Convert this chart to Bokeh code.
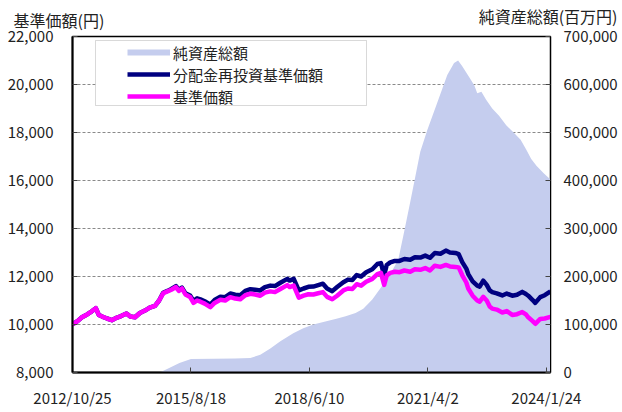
import pandas as pd
from bokeh.plotting import figure
from bokeh.core.properties import value
from bokeh.models import (Range1d, LinearAxis, FixedTicker, NumeralTickFormatter,
                          CustomJSTickFormatter, Legend, LegendItem, Title,
                          BoxAnnotation, ColumnDataSource)
from bokeh.embed import file_html
from bokeh.resources import INLINE

# ---------------- data ----------------
nav_dates = [
    "2012-10-25", "2012-12-10", "2013-01-15", "2013-03-01", "2013-04-10", "2013-05-15",
    "2013-06-10", "2013-07-10", "2013-08-20", "2013-10-01", "2013-11-10", "2013-12-20",
    "2014-02-05", "2014-03-10", "2014-04-20", "2014-06-01", "2014-07-15", "2014-08-25",
    "2014-10-10", "2014-11-15", "2014-12-20", "2015-01-26", "2015-03-01", "2015-04-10",
    "2015-05-05", "2015-06-01", "2015-07-01", "2015-08-10", "2015-09-09", "2015-10-10",
    "2015-11-08", "2015-12-15", "2016-02-02", "2016-03-10", "2016-04-29", "2016-06-10",
    "2016-07-24", "2016-09-05", "2016-10-19", "2016-12-01", "2017-01-14", "2017-02-25",
    "2017-04-10", "2017-05-20", "2017-07-06", "2017-08-15", "2017-10-01", "2017-11-30",
    "2017-12-20", "2018-01-25", "2018-03-10", "2018-04-20", "2018-06-01", "2018-07-14",
    "2018-08-25", "2018-10-05", "2018-11-10", "2018-12-25", "2019-02-05", "2019-03-31",
    "2019-05-10", "2019-06-17", "2019-07-25", "2019-09-01", "2019-10-15", "2019-12-07",
    "2020-01-20", "2020-02-20", "2020-03-19", "2020-04-10", "2020-05-11", "2020-06-20",
    "2020-07-30", "2020-09-10", "2020-10-31", "2020-12-10", "2021-01-26", "2021-03-10",
    "2021-04-20", "2021-06-01", "2021-07-20", "2021-09-05", "2021-10-10", "2021-11-26",
    "2021-12-25", "2022-01-25", "2022-03-01", "2022-03-18", "2022-04-25", "2022-06-04",
    "2022-06-25", "2022-07-26", "2022-08-25", "2022-09-20", "2022-10-12", "2022-11-20",
    "2023-01-07", "2023-02-15", "2023-04-03", "2023-05-15", "2023-06-29", "2023-07-31",
    "2023-08-20", "2023-09-25", "2023-10-20", "2023-12-02", "2024-01-10", "2024-02-29",
]
nav_base = [
    10000, 10150, 10300, 10420, 10550, 10680,
    10400, 10330, 10250, 10180, 10280, 10350,
    10460, 10330, 10300, 10480, 10580, 10700,
    10780, 11000, 11300, 11380, 11450, 11560,
    11400, 11500, 11250, 11150, 10900, 11000,
    10950, 10870, 10720, 10900, 11030, 11000,
    11140, 11080, 11050, 11220, 11280, 11250,
    11200, 11330, 11380, 11350, 11480, 11640,
    11560, 11620, 11120, 11200, 11260, 11250,
    11300, 11350, 11150, 11050, 11200, 11420,
    11500, 11480, 11680, 11620, 11780, 11900,
    12100, 12150, 11650, 12050, 12150, 12200,
    12180, 12250, 12200, 12300, 12280, 12350,
    12250, 12450, 12400, 12480, 12420, 12400,
    12380, 12050, 11750, 11500, 11200, 11000,
    10950, 11150, 11000, 10750, 10660, 10620,
    10500, 10560, 10400, 10430, 10520, 10420,
    10300, 10150, 10030, 10230, 10250, 10320,
]
nav_reinvest = [
    10000, 10150, 10300, 10420, 10550, 10680,
    10400, 10330, 10250, 10180, 10280, 10350,
    10460, 10330, 10300, 10480, 10580, 10700,
    10780, 11000, 11320, 11400, 11480, 11600,
    11440, 11540, 11300, 11210, 10980, 11090,
    11050, 10970, 10830, 11020, 11160, 11140,
    11290, 11240, 11220, 11400, 11470, 11450,
    11420, 11560, 11620, 11600, 11740, 11900,
    11830, 11900, 11420, 11500, 11570, 11580,
    11640, 11700, 11500, 11390, 11560, 11760,
    11870, 11850, 12060, 12000, 12180, 12300,
    12520, 12560, 12050, 12480, 12590, 12650,
    12650, 12730, 12700, 12800, 12790, 12870,
    12780, 12980, 12950, 13080, 13000, 12980,
    12930, 12600, 12330, 12100, 11800, 11620,
    11580, 11830, 11650, 11420, 11350, 11300,
    11210, 11290, 11200, 11240, 11360, 11270,
    11200, 11030, 10900, 11140, 11220, 11380,
]
asset_dates = [
    "2012-10-25", "2014-11-20", "2015-02-15", "2015-05-10", "2015-08-18", "2016-03-01",
    "2016-09-01", "2017-01-14", "2017-04-10", "2017-07-06", "2017-10-01", "2018-01-21",
    "2018-04-18", "2018-07-14", "2018-10-26", "2019-01-30", "2019-04-20", "2019-07-15",
    "2019-09-20", "2019-12-07", "2020-02-14", "2020-05-11", "2020-07-19", "2020-09-01",
    "2020-10-31", "2021-01-26", "2021-03-28", "2021-06-22", "2021-09-17", "2021-11-15",
    "2021-12-20", "2022-01-25", "2022-04-04", "2022-05-10", "2022-06-04", "2022-07-10",
    "2022-08-20", "2022-10-12", "2022-12-10", "2023-02-10", "2023-04-15", "2023-06-15",
    "2023-08-01", "2023-09-15", "2023-11-01", "2024-01-01", "2024-02-29",
]
net_assets = [
    0, 0, 10000, 20000, 28000, 28500,
    29000, 30000, 37000, 50000, 65000, 82000,
    92000, 100000, 106000, 112000, 117000, 124000,
    133000, 152000, 175000, 205000, 235000, 285000,
    355000, 460000, 505000, 562000, 620000, 645000,
    650000, 638000, 612000, 598000, 582000, 585000,
    568000, 550000, 535000, 515000, 500000, 485000,
    465000, 445000, 430000, 415000, 402000,
]
x_tick_dates = ["2012-10-25", "2015-08-18", "2018-06-10", "2021-04-02", "2024-01-24"]
left_ticks = [8000, 10000, 12000, 14000, 16000, 18000, 20000, 22000]
right_ticks = [0, 100000, 200000, 300000, 400000, 500000, 600000, 700000]

label_left = "基準価額(円)"
label_right = "純資産総額(百万円)"
legend_labels = ["純資産総額", "分配金再投資基準価額", "基準価額"]

# ---------------- styling ----------------
AREA_COLOR = "#C5CDEE"
REINV_COLOR = "#000080"
BASE_COLOR = "#FF00FF"
TEXT_COLOR = "#222222"
FONT = "Noto Sans CJK JP"
W, H = 622, 412
BORDER_L, BORDER_R, BORDER_T, BORDER_B = 72, 72, 36, 40

nav_src = ColumnDataSource(dict(
    date=pd.to_datetime(nav_dates), base=nav_base, reinv=nav_reinvest))
asset_src = ColumnDataSource(dict(
    date=pd.to_datetime(asset_dates), assets=net_assets,
    zero=[0] * len(net_assets)))

x_start = pd.Timestamp(nav_dates[0])
x_end = pd.Timestamp(nav_dates[-1])

p = figure(width=W, height=H, x_axis_type="datetime",
           output_backend="svg", toolbar_location=None,
           x_range=Range1d(x_start, x_end),
           y_range=Range1d(left_ticks[0], left_ticks[-1]),
           min_border_left=BORDER_L, min_border_right=BORDER_R,
           min_border_top=BORDER_T, min_border_bottom=BORDER_B,
           background_fill_color="white", border_fill_color="white")
p.extra_y_ranges = {"assets": Range1d(right_ticks[0], right_ticks[-1]),
                    # pixel-space helper range (top of page = 0)
                    "py": Range1d(H - BORDER_B, BORDER_T)}
p.extra_x_ranges = {"px": Range1d(BORDER_L, W - BORDER_R)}

area = p.varea(x="date", y1="zero", y2="assets", source=asset_src,
               y_range_name="assets", fill_color=AREA_COLOR, fill_alpha=1.0)
reinv = p.line(x="date", y="reinv", source=nav_src, line_color=REINV_COLOR,
               line_width=4.5, line_join="round")
base = p.line(x="date", y="base", source=nav_src, line_color=BASE_COLOR,
              line_width=4.5, line_join="round")
# legend swatch for the area (a thick bar; draws nothing in the plot)
area_swatch = p.line(x=[x_start], y=[float("nan")], line_color=AREA_COLOR,
                     line_width=6)

# axes
p.xgrid.visible = False
p.ygrid.ticker = FixedTicker(ticks=left_ticks[1:-1])
p.ygrid.grid_line_color = "#8a8a8a"
p.ygrid.grid_line_dash = "3 2"
p.ygrid.grid_line_width = 1

xaxis = p.xaxis[0]
xaxis.ticker = FixedTicker(ticks=[pd.Timestamp(d).value / 1e6 for d in x_tick_dates])
xaxis.formatter = CustomJSTickFormatter(code="""
    const d = new Date(tick);
    return d.getUTCFullYear() + "/" + (d.getUTCMonth() + 1) + "/" + d.getUTCDate();
""")
yaxis = p.yaxis[0]
yaxis.ticker = FixedTicker(ticks=left_ticks)
yaxis.formatter = NumeralTickFormatter(format="0,0")

raxis = LinearAxis(y_range_name="assets", ticker=FixedTicker(ticks=right_ticks),
                   formatter=NumeralTickFormatter(format="0,0"))
p.add_layout(raxis, "right")

for ax in (xaxis, yaxis, raxis):
    ax.major_label_text_font = FONT
    ax.major_label_text_font_size = "15px"
    ax.major_label_text_color = TEXT_COLOR
    ax.minor_tick_line_color = None
    ax.major_tick_out = 0
    ax.major_tick_in = 5
    ax.major_tick_line_color = "#444444"
    ax.axis_line_color = "black"

xaxis.axis_line_width = 2
yaxis.axis_line_width = 2
raxis.axis_line_width = 1
xaxis.major_label_standoff = 14
yaxis.major_label_standoff = 19
raxis.major_label_standoff = 13

p.outline_line_color = "black"
p.outline_line_width = 1.5

# ---------------- axis titles ----------------
p.title = Title(text=label_left, align="left", offset=-59, standoff=10,
                text_font=FONT, text_font_size="16px", text_font_style="normal",
                text_color=TEXT_COLOR)
p.text(x=[617], y=[15], text=[label_right], x_range_name="px", y_range_name="py",
       text_font=value(FONT), text_font_size="16px", text_color=TEXT_COLOR,
       text_align="right", text_baseline="middle", level="overlay")

# ---------------- legend ----------------
p.add_layout(BoxAnnotation(left=95, right=366, top=40, bottom=105,
                           left_units="canvas", right_units="canvas",
                           top_units="canvas", bottom_units="canvas",
                           fill_color="white", fill_alpha=1.0,
                           line_color="#808080", line_width=1))

legend = Legend(items=[
    LegendItem(label=legend_labels[0], renderers=[area_swatch]),
    LegendItem(label=legend_labels[1], renderers=[reinv]),
    LegendItem(label=legend_labels[2], renderers=[base]),
], location=(55, 265))
legend.padding = 0
legend.margin = 0
legend.spacing = 0
legend.glyph_width = 43
legend.glyph_height = 22
legend.label_height = 22
legend.label_standoff = 3
legend.label_text_font = FONT
legend.label_text_font_size = "15px"
legend.label_text_color = TEXT_COLOR
legend.border_line_color = None
legend.background_fill_alpha = 0
p.add_layout(legend)

open("out.html", "w").write(file_html(p, INLINE))
